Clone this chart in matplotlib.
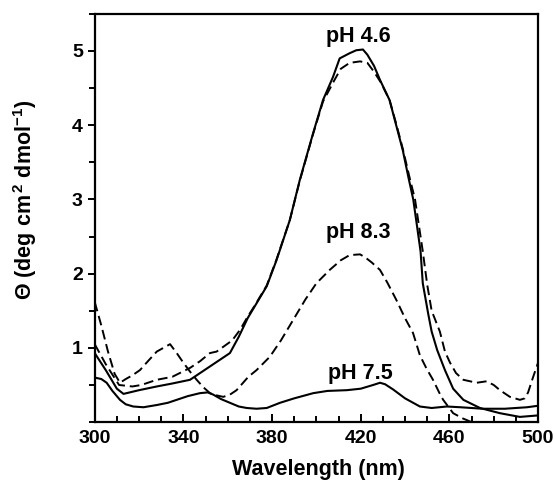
import numpy as np
import matplotlib
matplotlib.use("Agg")
import matplotlib.pyplot as plt
from matplotlib.ticker import MultipleLocator

plt.rcParams['font.family'] = ['Liberation Sans', 'DejaVu Sans']
plt.rcParams['font.weight'] = 'bold'
plt.rcParams['mathtext.fontset'] = 'custom'
plt.rcParams['mathtext.rm'] = 'Liberation Sans:bold'
plt.rcParams['mathtext.default'] = 'rm'

# pH 4.6, solid
wl_46a = [300, 305, 310, 313, 320, 328, 335, 343, 352, 361, 365, 369, 372, 377.6, 382, 388,
          392.5, 398.5, 403, 407.5, 410.5, 415, 418, 421, 423, 426, 428.7, 433, 436, 439,
          441.5, 443.7, 445.5, 447, 448, 450.5, 452, 454.5, 458, 461.7, 466.3, 473.8, 482.8,
          491.8, 500]
th_46a = [0.93, 0.70, 0.45, 0.38, 0.43, 0.48, 0.52, 0.57, 0.75, 0.93, 1.15, 1.40, 1.55, 1.83,
          2.18, 2.72, 3.26, 3.89, 4.34, 4.65, 4.90, 4.97, 5.01, 5.02, 4.95, 4.80, 4.61, 4.34,
          4.00, 3.66, 3.30, 3.00, 2.62, 2.30, 1.87, 1.45, 1.22, 0.97, 0.70, 0.45, 0.30, 0.19,
          0.12, 0.07, 0.09]

# pH 4.6, dashed
wl_46b = [300, 305, 311, 317, 321, 328, 335, 343, 347.5, 352, 355, 362, 365.5, 369, 372,
          377.6, 382, 388, 392.5, 398.5, 403, 408, 411, 415, 419.7, 423, 426, 429, 433, 436,
          439, 442, 444.5, 446.5, 448, 450, 452, 455.7, 458, 460.3, 463, 466.3, 472.3, 476.8,
          480, 482.8, 487.3, 491.8, 494, 495.5, 497.8, 500]
th_46b = [1.05, 0.78, 0.50, 0.48, 0.50, 0.57, 0.61, 0.73, 0.82, 0.93, 0.95, 1.10, 1.24, 1.42,
          1.56, 1.84, 2.19, 2.72, 3.25, 3.88, 4.32, 4.60, 4.76, 4.84, 4.86, 4.84, 4.72, 4.58,
          4.34, 4.02, 3.68, 3.30, 3.00, 2.60, 2.30, 1.85, 1.50, 1.22, 0.95, 0.80, 0.66, 0.57,
          0.53, 0.55, 0.50, 0.43, 0.34, 0.30, 0.32, 0.40, 0.61, 0.80]

# pH 8.3, dashed
wl_83 = [300, 303, 306, 309, 311.4, 314, 317, 320.4, 324, 328, 331, 334, 337, 340, 343, 346,
         349, 352, 355, 358, 361, 364, 369.3, 373, 379, 384, 389.6, 395, 400, 406, 411, 415,
         419.7, 422, 425, 428.7, 432, 436, 440, 443.6, 446.7, 449.7, 452.6, 455.7, 457.2,
         461.7, 466, 470, 475]
th_83 = [1.62, 1.30, 0.95, 0.65, 0.53, 0.58, 0.63, 0.70, 0.82, 0.95, 1.00, 1.05, 0.93, 0.80,
         0.68, 0.57, 0.47, 0.39, 0.36, 0.34, 0.37, 0.43, 0.61, 0.70, 0.88, 1.10, 1.38, 1.65,
         1.87, 2.05, 2.18, 2.25, 2.26, 2.22, 2.15, 2.05, 1.88, 1.65, 1.40, 1.20, 0.90, 0.72,
         0.57, 0.38, 0.30, 0.12, 0.05, 0.00, -0.05]

# pH 7.5, solid
wl_75 = [300, 303, 305.4, 308, 311.4, 314, 317.4, 322, 328, 333, 337, 342, 347.5, 351, 353.5,
         357, 361, 365, 368.6, 373, 377.6, 383.6, 390, 398.6, 405, 413.7, 420, 425.6, 428.7,
         431, 434.6, 440, 446.7, 452, 458.8, 465, 475, 485, 495, 500]
th_75 = [0.60, 0.58, 0.53, 0.42, 0.30, 0.24, 0.21, 0.20, 0.23, 0.26, 0.30, 0.35, 0.39, 0.40,
         0.37, 0.31, 0.26, 0.21, 0.19, 0.18, 0.19, 0.26, 0.32, 0.39, 0.42, 0.43, 0.45, 0.50,
         0.53, 0.51, 0.44, 0.32, 0.21, 0.19, 0.21, 0.20, 0.18, 0.18, 0.20, 0.22]

fig = plt.figure(figsize=(5.57, 4.96), dpi=100)
ax = fig.add_axes([0.170, 0.149, 0.796, 0.823])

dash = (0, (5, 2.5))
ax.plot(wl_46a, th_46a, color='black', lw=1.5)
ax.plot(wl_46b, th_46b, color='black', lw=1.4, linestyle=dash)
ax.plot(wl_83, th_83, color='black', lw=1.4, linestyle=dash)
ax.plot(wl_75, th_75, color='black', lw=1.5)

ax.set_xlim(300, 500)
ax.set_ylim(0, 5.5)
ax.set_xticks([300, 340, 380, 420, 460, 500])
ax.xaxis.set_minor_locator(MultipleLocator(10))
ax.set_yticks([1, 2, 3, 4, 5])
ax.yaxis.set_minor_locator(MultipleLocator(0.5))
ax.tick_params(axis='x', which='both', direction='in', labelsize=14, width=1.4, pad=6)
ax.tick_params(axis='x', which='major', length=6)
ax.tick_params(axis='x', which='minor', length=4)
ax.tick_params(axis='y', which='both', direction='out', labelsize=14, width=1.4)
ax.tick_params(axis='y', which='major', length=5)
ax.tick_params(axis='y', which='minor', length=4)
for s in ax.spines.values():
    s.set_linewidth(1.6)

ax.text(418.8, 5.2, 'pH 4.6', ha='center', va='center', fontsize=15.5, fontweight='bold')
ax.text(418.8, 2.56, 'pH 8.3', ha='center', va='center', fontsize=15.5, fontweight='bold')
ax.text(419.7, 0.66, 'pH 7.5', ha='center', va='center', fontsize=15.5, fontweight='bold')

fig.text(318 / 557, 1 - 470 / 496, 'Wavelength (nm)', ha='center', va='center',
         fontsize=15.5, fontweight='bold')
fig.text(25 / 557, 1 - 200 / 496, 'Θ (deg cm$^{\\,2}$ dmol$^{-1}$)', rotation=90,
         ha='center', va='center', fontsize=15.5, fontweight='bold')

fig.savefig('out.png', dpi=100)
